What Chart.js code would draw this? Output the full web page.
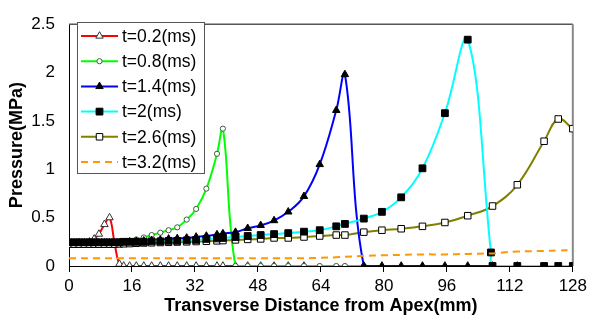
<!DOCTYPE html>
<html><head><meta charset="utf-8">
<script src="https://cdn.jsdelivr.net/npm/chart.js@4.4.1/dist/chart.umd.min.js"></script>
<style>html,body{margin:0;padding:0;background:#fff;}</style>
</head><body>
<canvas id="c" width="591" height="324"></canvas>
<script>
// Transverse distance from apex (mm)
const distance = [0,1.3,2.6,3.9,5.2,6.4,7.6,9.0,10.3,11.6,12.8,13.9,15.4,17.1,19,21,23.2,25.3,27.5,29.9,32.3,34.9,37.6,39.1,42.3,45.4,48.7,52.1,55.7,59.7,63.7,67.9,70.1,74.9,79.5,84.4,89.8,95.5,101.3,107.2,107.6,113.9,120.7,124.3,128];
const seriesLabels = ['t=0.2(ms)','t=0.8(ms)','t=1.4(ms)','t=2(ms)','t=2.6(ms)','t=3.2(ms)'];
const xTicks = [0,16,32,48,64,80,96,112,128];
const yTicks = [0,0.5,1,1.5,2,2.5];
// Pressure (MPa)
const p02 = [0.235,0.235,0.24,0.24,0.25,0.28,0.33,0.43,0.50,0.23,0.02,
  0,0,0,0,0,0,0,0,0,0,0,0,0,0,0,0,0,0,0,
  null,null,null,null,null,null,null,null,null,null,null,null,null,null,null];
const p08 = [0.24,0.24,0.24,0.24,0.24,0.24,0.24,0.24,0.24,0.24,0.24,
  0.25,0.26,0.275,0.295,0.32,0.345,0.37,0.40,0.48,0.59,0.80,1.16,1.42,
  0,0,0,0,0,0,0,0,0,0,
  null,null,null,null,null,null,null,null,null,null,null];
const p14 = [0.24,0.24,0.24,0.24,0.24,0.24,0.24,0.24,0.24,0.24,0.24,
  0.245,0.25,0.255,0.26,0.265,0.27,0.28,0.285,0.29,0.30,0.31,0.325,0.335,
  0.35,0.39,0.42,0.47,0.56,0.72,1.05,1.61,1.98,
  0,0,0,0,0,0,null,0,0,
  null,null,null];
const p20 = [0.245,0.245,0.245,0.245,0.245,0.245,0.245,0.245,0.245,0.245,0.245,
  0.25,0.25,0.25,0.25,0.255,0.255,0.26,0.26,0.265,0.27,0.28,0.285,0.29,
  0.30,0.31,0.32,0.33,0.34,0.355,0.37,0.41,0.435,
  0.49,0.56,0.71,1.01,1.58,2.34,0.14,0,0,
  0,0,0];
const p26 = [0.225,0.225,0.225,0.225,0.225,0.225,0.225,0.225,0.225,0.225,0.228,
  0.23,0.232,0.235,0.238,0.24,0.243,0.245,0.248,0.25,0.253,0.256,0.26,0.263,
  0.27,0.275,0.28,0.29,0.29,0.30,0.31,0.32,0.32,
  0.35,0.37,0.385,0.41,0.45,0.52,null,0.62,0.84,
  1.29,1.52,1.42];
const p32 = [0.08,0.08,0.08,0.08,0.08,0.08,0.08,0.08,0.08,0.08,0.08,
  0.08,0.08,0.08,0.08,0.08,0.08,0.08,0.08,0.08,0.08,0.08,0.08,0.08,
  0.08,0.08,0.08,0.08,0.08,0.08,0.085,0.09,0.095,
  0.105,0.11,0.115,0.12,0.12,0.125,0.13,0.13,0.15,
  0.155,0.16,0.165];

const seriesValues = [p02,p08,p14,p20,p26,p32];
const styles = [
  {color:'#ff0000', point:'triangle', r:4.3, fill:'#ffffff', stroke:'#333333', layer:6},
  {color:'#00ff00', point:'circle', r:2.6, fill:'#ffffff', stroke:'#336633', layer:5},
  {color:'#0000ff', point:'triangle', r:4.3, fill:'#000000', stroke:'#000000', layer:3},
  {color:'#00ffff', point:'rect', r:4.8, fill:'#000000', stroke:'#000000', layer:2},
  {color:'#808000', point:'rect', r:4.6, fill:'#ffffff', stroke:'#000000', layer:4},
  {color:'#ff9900', point:false, r:0, fill:'#ff9900', stroke:'#ff9900', dash:[7,5], layer:1}
];

const datasets = seriesValues.map((vals,i)=>({
  label: seriesLabels[i],
  data: distance.map((x,j)=>({x:x, y:vals[j]})),
  borderColor: styles[i].color,
  borderWidth: 2,
  borderDash: styles[i].dash || [],
  pointStyle: styles[i].point,
  pointRadius: styles[i].r,
  pointBackgroundColor: styles[i].fill,
  pointBorderColor: styles[i].stroke,
  pointBorderWidth: 1,
  tension: 0.4,
  spanGaps: true,
  fill: false,
  order: styles[i].layer
}));

function drawMarker(ctx, st, x, y) {
  if (!st.point) return;
  const r = st.r;
  ctx.save();
  ctx.beginPath();
  if (st.point === 'triangle') {
    ctx.moveTo(x, y - r);
    ctx.lineTo(x + r*0.866, y + r*0.5);
    ctx.lineTo(x - r*0.866, y + r*0.5);
    ctx.closePath();
  } else if (st.point === 'circle') {
    ctx.arc(x, y, r, 0, Math.PI*2);
  } else {
    const s = r*Math.SQRT1_2;
    ctx.rect(x - s, y - s, 2*s, 2*s);
  }
  ctx.fillStyle = st.fill; ctx.fill();
  ctx.lineWidth = 1; ctx.strokeStyle = st.stroke; ctx.stroke();
  ctx.restore();
}

const framePlugin = {
  id:'frame',
  beforeDatasetsDraw(chart){
    const {ctx, chartArea:a} = chart;
    ctx.save();
    ctx.strokeStyle = '#555555'; ctx.lineWidth = 1.5;
    ctx.beginPath(); ctx.moveTo(a.left, a.top); ctx.lineTo(a.right, a.top); ctx.stroke();
    ctx.strokeStyle = '#888888'; ctx.lineWidth = 2;
    ctx.beginPath(); ctx.moveTo(a.right, a.top); ctx.lineTo(a.right, a.bottom); ctx.stroke();
    ctx.restore();
  },
  afterDraw(chart){
    const ctx = chart.ctx;
    const bx = 77, by = 22, bw = 127, bh = 151;
    ctx.save();
    ctx.fillStyle = '#ffffff';
    ctx.fillRect(bx, by, bw, bh);
    ctx.strokeStyle = '#555555'; ctx.lineWidth = 1;
    ctx.strokeRect(bx+0.5, by+0.5, bw, bh);
    ctx.font = '17.5px "Liberation Sans", Arial, sans-serif';
    ctx.textBaseline = 'middle';
    ctx.fillStyle = '#000000';
    seriesLabels.forEach((lab,i)=>{
      const y = 36 + i*25.2;
      const st = styles[i];
      ctx.save();
      ctx.strokeStyle = st.color; ctx.lineWidth = 2;
      ctx.setLineDash(st.dash || []);
      ctx.beginPath(); ctx.moveTo(81, y); ctx.lineTo(118, y); ctx.stroke();
      ctx.restore();
      drawMarker(ctx, st, 99.5, y);
      ctx.fillStyle = '#000000';
      ctx.fillText(lab, 122, y+1);
    });
    ctx.restore();
  }
};

new Chart(document.getElementById('c'), {
  type: 'line',
  data: { datasets },
  plugins: [framePlugin],
  options: {
    responsive: false,
    animation: false,
    layout: { padding: { top: 17, right: 17, left: 0, bottom: 0 } },
    plugins: { legend: { display: false }, tooltip: { enabled: false } },
    scales: {
      x: {
        type: 'linear', min: 0, max: 128,
        afterBuildTicks: s => { s.ticks = xTicks.map(v=>({value:v})); },
        afterFit: s => { s.height = 58; },
        ticks: { color:'#000', font:{ family:'"Liberation Sans", Arial, sans-serif', size:17 }, padding: 4, maxRotation:0, autoSkip:false,
          callback: v => String(v) },
        grid: { drawOnChartArea:false, drawTicks:true, tickLength:6, color:'#000' },
        border: { color:'#000', width:1 },
        title: { display:true, text:'Transverse Distance from Apex(mm)', color:'#000',
          font:{ family:'"Liberation Sans", Arial, sans-serif', size:18, weight:'bold' }, padding:{top:0, bottom:7} }
      },
      y: {
        type: 'linear', min: 0, max: 2.5,
        afterBuildTicks: s => { s.ticks = yTicks.map(v=>({value:v})); },
        afterFit: s => { s.width = 69; },
        ticks: { color:'#000', font:{ family:'"Liberation Sans", Arial, sans-serif', size:17 }, padding: 14,
          callback: v => String(v) },
        grid: { drawOnChartArea:false, drawTicks:false, color:'#000' },
        border: { color:'#000', width:1 },
        title: { display:true, text:'Pressure(MPa)', color:'#000',
          font:{ family:'"Liberation Sans", Arial, sans-serif', size:18, weight:'bold' }, padding:{top:6, bottom:0} }
      }
    }
  }
});
</script>
</body></html>
